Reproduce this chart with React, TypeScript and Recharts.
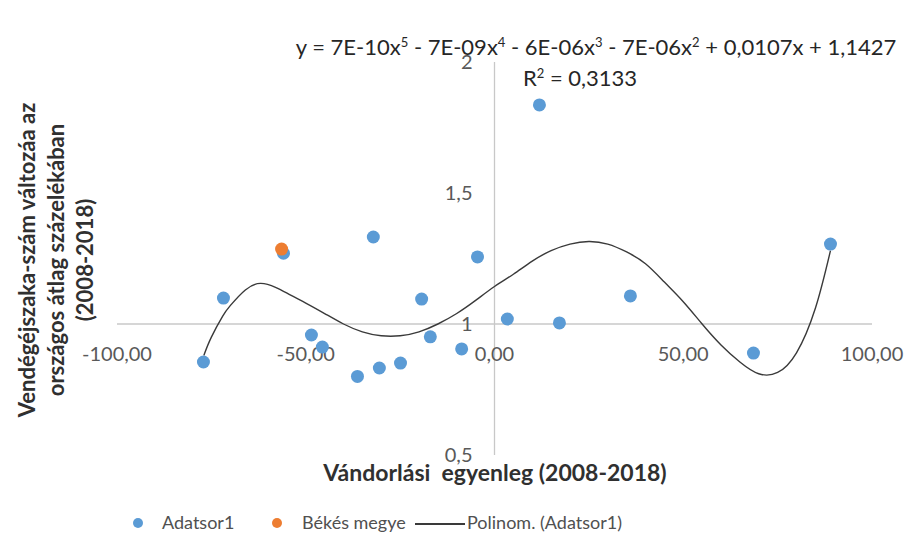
import React from 'react';
import {
  ComposedChart,
  Scatter,
  Line,
  XAxis,
  YAxis,
  ReferenceLine,
  ReferenceDot,
} from 'recharts';

// Adatsor1 pontok (vándorlási egyenleg, vendégéjszaka arány)
const adatsorX = [-77.1, -71.8, -55.9, -48.5, -45.6, -36.3, -30.5, -24.9, -32.1, -19.3, -17.0, -8.7, -4.5, 3.4, 11.9, 17.2, 36.0, 68.6, 89.0];
const adatsorY = [0.855, 1.099, 1.27, 0.958, 0.912, 0.80, 0.832, 0.851, 1.332, 1.095, 0.951, 0.905, 1.256, 1.019, 1.836, 1.004, 1.107, 0.889, 1.305];

// Békés megye
const bekesX = [-56.4];
const bekesY = [1.286];

// polinomiális trendvonal
const trendX = [-77, -75, -72, -70, -66, -62, -58, -54, -50, -45, -40, -35, -30, -25, -20, -15, -10, -5, 0, 5, 10, 15, 20, 25, 30, 35, 40, 45, 50, 55, 60, 65, 70, 75, 80, 85, 89];
const trendY = [0.88, 0.95, 1.03, 1.07, 1.13, 1.155, 1.14, 1.11, 1.08, 1.04, 1.0, 0.97, 0.955, 0.955, 0.97, 1.0, 1.04, 1.09, 1.143, 1.19, 1.24, 1.28, 1.305, 1.315, 1.305, 1.275, 1.23, 1.16, 1.085, 1.0, 0.92, 0.855, 0.81, 0.815, 0.89, 1.06, 1.28];

const xTicks = [-100, -50, 0, 50, 100];
const xTickLabels = ['-100,00', '-50,00', '0,00', '50,00', '100,00'];
const yTicks = [0.5, 1, 1.5, 2];
const yTickLabels = ['0,5', '1', '1,5', '2'];

const seriesNames = ['Adatsor1', 'Békés megye', 'Polinom. (Adatsor1)'];

const font = "Lato, 'Noto Sans', sans-serif";
const BLUE = '#5b9bd5';
const ORANGE = '#ed7d31';

const zip = (xs: number[], ys: number[]) => xs.map((x, i) => ({ x, y: ys[i] }));

export default function App() {
  const adatsor = zip(adatsorX, adatsorY);
  const bekes = zip(bekesX, bekesY);
  const trend = zip(trendX, trendY);
  const sup = { fontSize: 13 };

  return (
    <div style={{ position: 'relative', width: 908, height: 551, background: '#fff', fontFamily: font }}>
      <style>{'body{margin:0}'}</style>
      <ComposedChart width={908} height={551} margin={{ top: 62, right: 36, bottom: 96, left: 117 }}>
        <XAxis type="number" dataKey="x" domain={[-100, 100]} hide allowDataOverflow />
        <YAxis type="number" dataKey="y" domain={[0.5, 2]} hide allowDataOverflow />
        <ReferenceLine y={1} stroke="#c8c8c8" strokeWidth={1.3} />
        <ReferenceLine x={0} stroke="#c8c8c8" strokeWidth={1.3} />
        {xTicks.map((v, i) => (
          <ReferenceDot
            key={'xt' + i}
            x={v}
            y={1}
            r={0}
            shape={(p: any) => (
              <text x={p.cx} y={p.cy + 30} dy="0.35em" textAnchor="middle" fill="#595959" fontSize={20} fontFamily={font}>
                {xTickLabels[i]}
              </text>
            )}
          />
        ))}
        {yTicks.map((v, i) => (
          <ReferenceDot
            key={'yt' + i}
            x={0}
            y={v}
            r={0}
            shape={(p: any) => (
              <text x={p.cx - 22} y={p.cy} dy="0.35em" textAnchor="end" fill="#595959" fontSize={20} fontFamily={font}>
                {yTickLabels[i]}
              </text>
            )}
          />
        ))}
        <Scatter
          name={seriesNames[0]}
          data={adatsor}
          dataKey="y"
          isAnimationActive={false}
          shape={(p: any) => <circle cx={p.cx} cy={p.cy} r={6.5} fill={BLUE} />}
        />
        <Scatter
          name={seriesNames[1]}
          data={bekes}
          dataKey="y"
          isAnimationActive={false}
          shape={(p: any) => <circle cx={p.cx} cy={p.cy} r={6.5} fill={ORANGE} />}
        />
        <Line
          name={seriesNames[2]}
          data={trend}
          dataKey="y"
          type="natural"
          stroke="#3a3a3a"
          strokeWidth={1.4}
          dot={false}
          activeDot={false}
          isAnimationActive={false}
        />
      </ComposedChart>

      {/* trendvonal egyenlete */}
      <div style={{ position: 'absolute', left: 266, width: 660, top: 29, textAlign: 'center', color: '#262626', fontSize: 22, lineHeight: '26px' }}>
        <div style={{ whiteSpace: 'nowrap' }}>
          y = 7E-10x<sup style={sup}>5</sup> - 7E-09x<sup style={sup}>4</sup> - 6E-06x<sup style={sup}>3</sup> - 7E-06x<sup style={sup}>2</sup> + 0,0107x + 1,1427
        </div>
        <div style={{ paddingRight: 32 }}>
          R<sup style={sup}>2</sup> = 0,3133
        </div>
      </div>

      {/* tengelycímek */}
      <div style={{ position: 'absolute', left: 0, width: 990, top: 458, textAlign: 'center', fontWeight: 700, fontSize: 23, color: '#303030', whiteSpace: 'pre' }}>
        {'Vándorlási  egyenleg (2008-2018)'}
      </div>
      <div
        style={{
          position: 'absolute',
          left: 57 - 220,
          top: 260 - 45,
          width: 440,
          height: 90,
          transform: 'rotate(-90deg)',
          textAlign: 'center',
          fontWeight: 700,
          fontSize: 22,
          lineHeight: '29px',
          color: '#303030',
        }}
      >
        Vendégéjszaka-szám változáa az
        <br />
        országos átlag százelékában
        <br />
        (2008-2018)
      </div>

      {/* jelmagyarázat */}
      <div style={{ position: 'absolute', top: 511, left: 0, width: 908, height: 24, fontSize: 18, color: '#505050' }}>
        <span style={{ position: 'absolute', left: 133, top: 7, width: 10, height: 10, borderRadius: 5, background: BLUE }} />
        <span style={{ position: 'absolute', left: 162, top: 0 }}>{seriesNames[0]}</span>
        <span style={{ position: 'absolute', left: 272, top: 7, width: 10, height: 10, borderRadius: 5, background: ORANGE }} />
        <span style={{ position: 'absolute', left: 302, top: 0 }}>{seriesNames[1]}</span>
        <span style={{ position: 'absolute', left: 415, top: 12, width: 50, height: 1.5, background: '#3a3a3a' }} />
        <span style={{ position: 'absolute', left: 467, top: 0 }}>{seriesNames[2]}</span>
      </div>
    </div>
  );
}
